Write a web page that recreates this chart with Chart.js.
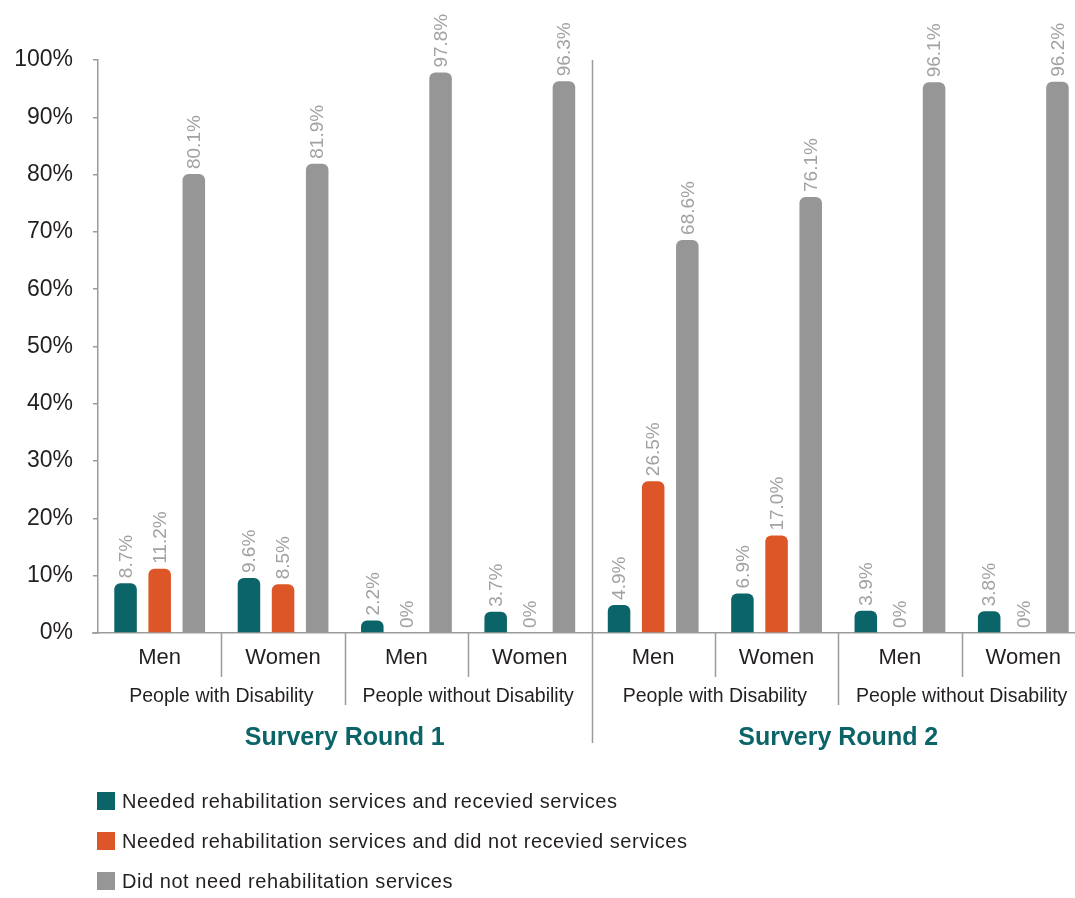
<!DOCTYPE html>
<html>
<head>
<meta charset="utf-8">
<script src="https://cdn.jsdelivr.net/npm/chart.js@4"></script>
<style>
  html, body { margin: 0; padding: 0; background: #ffffff; overflow: hidden; }
  #wrap { width: 1090px; height: 898px; }
</style>
</head>
<body>
<div id="wrap"><canvas id="c" width="1090" height="898"></canvas></div>
<script>
// ---- data ----
const categories = ['Men', 'Women', 'Men', 'Women', 'Men', 'Women', 'Men', 'Women'];
const groups = ['People with Disability', 'People without Disability', 'People with Disability', 'People without Disability'];
const rounds = ['Survery Round 1', 'Survery Round 2'];
const seriesNames = [
  'Needed rehabilitation services and recevied services',
  'Needed rehabilitation services and did not recevied services',
  'Did not need rehabilitation services'
];
const received    = [8.7, 9.6, 2.2, 3.7, 4.9, 6.9, 3.9, 3.8];
const notReceived = [11.2, 8.5, 0, 0, 26.5, 17.0, 0, 0];
const notNeeded   = [80.1, 81.9, 97.8, 96.3, 68.6, 76.1, 96.1, 96.2];
const yTicks = [0, 10, 20, 30, 40, 50, 60, 70, 80, 90, 100];

const colors = ['#0b6568', '#dd5627', '#969696'];
const FONT = '"Liberation Sans", Arial, Helvetica, sans-serif';
const TEXT = '#231f20';
const LINE = '#9b9b9b';

const annotations = {
  id: 'annotations',
  afterDraw(chart) {
    const ctx = chart.ctx;
    const x = chart.scales.x;
    const area = chart.chartArea;
    const base = area.bottom;
    const px = i => x.getPixelForValue(i);
    const edge = i => (px(i) + px(i + 1)) / 2; // boundary after category i
    ctx.save();

    // data labels
    ctx.font = '19px ' + FONT;
    ctx.fillStyle = '#a2a2a2';
    ctx.textAlign = 'left';
    ctx.textBaseline = 'middle';
    chart.data.datasets.forEach((ds, di) => {
      const meta = chart.getDatasetMeta(di);
      meta.data.forEach((bar, j) => {
        const v = ds.data[j];
        const txt = v === 0 ? '0%' : v.toFixed(1) + '%';
        ctx.save();
        ctx.translate(bar.x, bar.y - 5);
        ctx.rotate(-Math.PI / 2);
        ctx.fillText(txt, 0, 1);
        ctx.restore();
      });
    });

    // separators
    ctx.strokeStyle = LINE;
    ctx.lineWidth = 1.5;
    const vline = (xx, y0, y1) => { ctx.beginPath(); ctx.moveTo(xx, y0); ctx.lineTo(xx, y1); ctx.stroke(); };
    [0, 2, 4, 6].forEach(i => vline(Math.round(edge(i)) + 0.5, base, base + 44));
    [1, 5].forEach(i => vline(Math.round(edge(i)) + 0.5, base, base + 72));
    vline(Math.round(edge(3)) + 0.5, area.top, base + 110);
    // baseline extends past the y axis
    ctx.beginPath(); ctx.moveTo(area.left - 6, base); ctx.lineTo(area.left, base); ctx.stroke();

    // category labels
    ctx.fillStyle = TEXT;
    ctx.textAlign = 'center';
    ctx.textBaseline = 'middle';
    ctx.font = '22px ' + FONT;
    categories.forEach((c, i) => ctx.fillText(c, px(i), base + 25));
    ctx.font = '19.5px ' + FONT;
    groups.forEach((g, k) => ctx.fillText(g, edge(2 * k), base + 64));
    ctx.font = 'bold 25px ' + FONT;
    ctx.fillStyle = '#0b6568';
    rounds.forEach((r, k) => ctx.fillText(r, (px(4 * k + 1) + px(4 * k + 2)) / 2, base + 105));

    // legend
    ctx.textAlign = 'left';
    ctx.font = '20px ' + FONT;
    if ('letterSpacing' in ctx) ctx.letterSpacing = '0.55px';
    seriesNames.forEach((n, k) => {
      const cy = 801 + 40 * k;
      ctx.fillStyle = colors[k];
      ctx.fillRect(97, cy - 9, 18, 18);
      ctx.fillStyle = TEXT;
      ctx.fillText(n, 122, cy + 1);
    });
    ctx.restore();
  }
};

new Chart(document.getElementById('c'), {
  type: 'bar',
  data: {
    labels: categories,
    datasets: [
      { label: seriesNames[0], data: received, backgroundColor: colors[0] },
      { label: seriesNames[1], data: notReceived, backgroundColor: colors[1] },
      { label: seriesNames[2], data: notNeeded, backgroundColor: colors[2] }
    ].map(d => Object.assign(d, { borderRadius: 6, categoryPercentage: 0.83, barPercentage: 0.66 }))
  },
  options: {
    responsive: false,
    animation: false,
    devicePixelRatio: 1,
    layout: { padding: { top: 60, right: 5, left: 0, bottom: 0 } },
    plugins: { legend: { display: false }, tooltip: { enabled: false } },
    scales: {
      x: {
        grid: { display: false },
        ticks: { display: false },
        border: { display: true, color: LINE, width: 1.5 },
        afterFit: s => { s.height = 898 - 633; }
      },
      y: {
        min: 0, max: 100,
        afterBuildTicks: s => { s.ticks = yTicks.map(v => ({ value: v })); },
        afterFit: s => { s.width = 98; },
        grid: { drawOnChartArea: false, tickLength: 5, color: LINE, lineWidth: 1.5 },
        border: { display: true, color: LINE, width: 1.5 },
        ticks: {
          padding: 20,
          color: TEXT,
          font: { family: FONT, size: 23 },
          callback: v => v + '%'
        }
      }
    }
  },
  plugins: [annotations]
});
</script>
</body>
</html>
